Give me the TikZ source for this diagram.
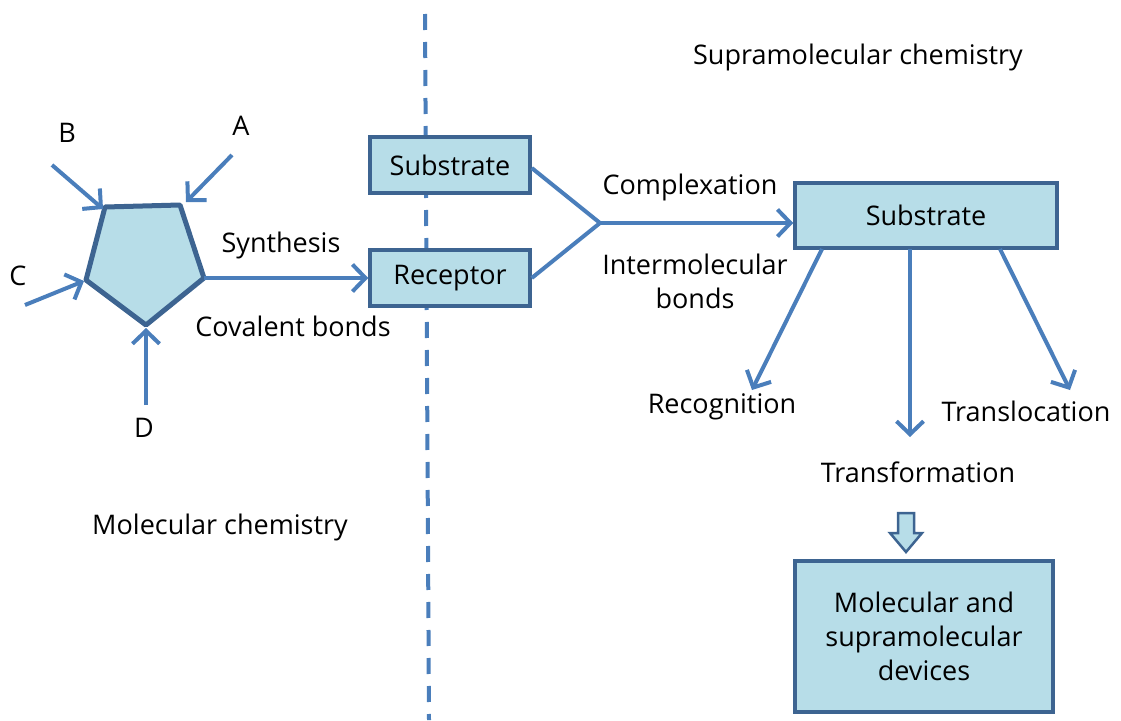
\documentclass[tikz,border=0pt]{standalone}
\usepackage{fontspec}
\setmainfont{Open Sans}
\usetikzlibrary{arrows.meta}
\definecolor{boxfill}{HTML}{B7DDE8}
\definecolor{boxline}{HTML}{3D6491}
\definecolor{arrowblue}{HTML}{4A7EBB}
\newcommand\chemfont{\fontsize{27}{34}\selectfont}
\begin{document}
\begin{tikzpicture}[x=1pt,y=-1pt,
  box/.style={draw=boxline,fill=boxfill,line width=3.5pt,inner sep=0pt,font=\chemfont,align=center},
  lbl/.style={font=\chemfont,inner sep=0pt,align=center},
  link/.style={draw=arrowblue,line width=4pt},
  arr/.style={link,-{Straight Barb[length=13pt,width=27pt,line width=4pt]}}]
\useasboundingbox (0,0) rectangle (1121,720);
\draw[arrowblue,line width=4pt,dash pattern=on 16pt off 12pt] (425,14) -- (429,720); % the border between the two
% molecular chemistry
\coordinate (p1) at (105,207); \coordinate (p2) at (180,205); \coordinate (p3) at (204,278);
\coordinate (p4) at (146,325); \coordinate (p5) at (86,280);
\filldraw[fill=boxfill,draw=boxline,line width=5pt,line join=round] (p1) -- (p2) -- (p3) -- (p4) -- (p5) -- cycle;
\coordinate (a) at (232,155); \coordinate (b) at (52,165); \coordinate (c) at (25,305); \coordinate (d) at (146,405);
\draw[arr] (a) -- (186,202);
\draw[arr] (b) -- (103,209);
\draw[arr] (c) -- (84,281);
\draw[arr] (d) -- (146,328);
\node[lbl] (la) at (241,126) {A};
\node[lbl] (lb) at (67,133) {B};
\node[lbl] (lc) at (18,276) {C};
\node[lbl] (ld) at (144,428) {D};
\node[box,minimum width=160,minimum height=56] (sub1) at (450,165) {Substrate};
\node[box,minimum width=160,minimum height=56] (rec) at (450,278) {Receptor};
\draw[arr] (p3) -- (rec.west);
\node[lbl] (syn) at (281,245) {Synthesis};
\node[lbl] (cov) at (293,326) {Covalent bonds};
\node[lbl] (molchem) at (220,527) {Molecular chemistry};
% supramolecular chemistry
\node[lbl] (supchem) at (858,57) {Supramolecular chemistry};
\coordinate (join) at (600,223);
\draw[link,line join=miter] (sub1.east |- 0,168) -- (join) -- (rec.east);
\node[box,minimum width=262,minimum height=65] (sub2) at (926,215.5) {Substrate};
\draw[arr] (join) -- (sub2.west |- join);
\node[lbl] (cplx) at (690,187) {Complexation};
\node[lbl] (inter) at (695,281) {Intermolecular\\bonds};
\coordinate (recog) at (752,390); \coordinate (trans) at (910,437); \coordinate (trloc) at (1070,390);
\draw[arr] (822,249) -- (recog);
\draw[arr] (910,249) -- (trans);
\draw[arr] (1000,249) -- (trloc);
\node[lbl] (lrecog) at (722,407) {Recognition};
\node[lbl] (ltrans) at (918,472) {Transformation};
\node[lbl] (ltrloc) at (1026,411) {Translocation};
\filldraw[fill=boxfill,draw=boxline,line width=2.5pt,line join=miter] (898,513) -- (914,513) -- (914,533) -- (922,533) -- (906,552) -- (890,533) -- (898,533) -- cycle; % the hollow arrow
\node[box,minimum width=258,minimum height=151] (dev) at (924,636.5) {Molecular and\\supramolecular\\devices};
\end{tikzpicture}
\end{document}
